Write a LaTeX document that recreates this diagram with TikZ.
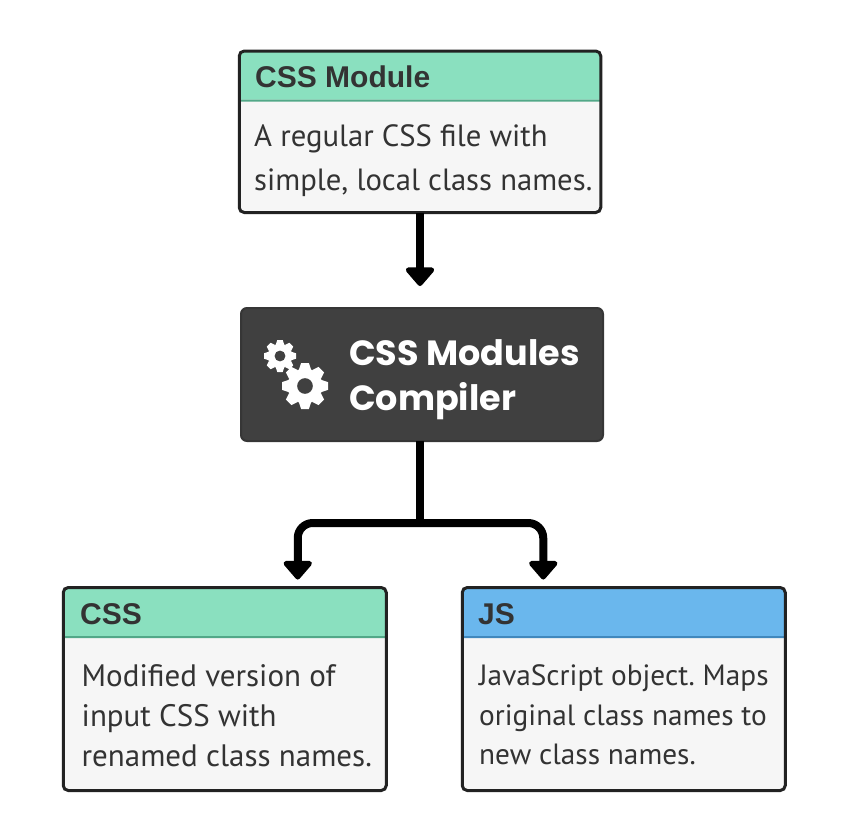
\documentclass[tikz,border=0pt]{standalone}
\usepackage{fontspec}
\usepackage{xcolor}
\usetikzlibrary{positioning}
\usetikzlibrary{arrows.meta}
\setmainfont{PT Sans}
\newfontfamily\headfont{Liberation Sans}[BoldFont={Liberation Sans Bold}]
\newfontfamily\compfont{Poppins}[BoldFont={Poppins Bold}]
\definecolor{mygreen}{HTML}{8AE0BF}
\definecolor{mygreenline}{HTML}{52A888}
\definecolor{myblue}{HTML}{6AB7ED}
\definecolor{mybluline}{HTML}{4088BD}
\definecolor{mybody}{HTML}{F6F6F6}
\definecolor{myink}{HTML}{333333}
\definecolor{myedge}{HTML}{222222}
\definecolor{mydark}{HTML}{404040}
\tikzset{
  box/.style n args={4}{draw=myedge,line width=3pt,rounded corners=5pt,fill=mybody,outer sep=0pt,
    minimum width=#1,minimum height=#2,
    path picture={
      \fill[#3] ([xshift=-6pt,yshift=6pt]path picture bounding box.north west) rectangle ([xshift=6pt,yshift=-48.5pt]path picture bounding box.north east);
      \fill[#4] ([xshift=-6pt,yshift=-48.5pt]path picture bounding box.north west) rectangle ([xshift=6pt,yshift=-50.5pt]path picture bounding box.north east);
    }},
  title/.style={anchor=base west,inner sep=0pt,text=myink,font=\headfont\bfseries\fontsize{30}{30}\selectfont},
  body/.style 2 args={anchor=west,inner sep=0pt,align=left,text=myink,font=\frenchspacing\fontsize{#1}{#2}\selectfont},
  link/.style={draw=black,line width=8pt,rounded corners=15pt,-{Triangle[round,length=20pt,width=33pt]}},
  pics/gear/.style={code={
    \foreach \a in {0,45,...,315}
      \fill[white,rotate=\a] (-.27,-.7) -- (-.17,-1) -- (.17,-1) -- (.27,-.7) -- cycle;
    \fill[white] (0,0) circle (.76);
    \fill[mydark] (0,0) circle (.34);
  }}
}
\begin{document}
\begin{tikzpicture}[x=1pt,y=-1pt,node distance=3cm,on grid]
    \useasboundingbox (0,0) rectangle (847,833);
    % boxes
    \node[box={361.5pt}{161.5pt}{mygreen}{mygreenline}] (module) at (420,131.75) {};
    \node[draw=mydark!85!black,line width=2pt,rounded corners=6pt,fill=mydark,outer sep=0pt,minimum width=362pt,minimum height=133pt] (compiler) at (422,374.5) {};
    \node[box={323pt}{203pt}{mygreen}{mygreenline}] (cssbox) [below left=314.5pt and 197.25pt of compiler] {};
    \node[box={323pt}{203pt}{myblue}{mybluline}] (jsbox) [right=399pt of cssbox] {};

    % texts
    \node[title] (moduletitle) at (255,87) {CSS Module};
    \node[body={30.7}{43.5pt}] (moduletext) at (254,160.5) {A regular CSS file with\\simple, local class names.};
    \node[anchor=west,inner sep=0pt,align=left,text=white,font=\compfont\bfseries\fontsize{35}{45}\selectfont] (compilertext) at (349,380) {CSS Modules\\Compiler};
    \node[title] (csstitle) at (80,624) {CSS};
    \node[body={31}{40pt}] (csstext) at (81.5,716) {Modified version of\\input CSS with\\renamed class names.};
    \node[title] (jstitle) at (478,624) {JS};
    \node[body={29.3}{39.5pt}] (jstext) at (479,715) {JavaScript object. Maps\\original class names to\\new class names.};

    % gears
    \pic at (280,356) [scale=16] {gear};
    \pic at (305,386) [scale=23] {gear};

    % connectors
    \coordinate (split) at (420,523);
    \draw[link,shorten >=22pt] (module.south) -- (module.south |- compiler.north);
    \draw[line width=8pt,draw=black] (split |- compiler.south) -- (split);
    \draw[link,shorten >=8pt] (split) -| ([xshift=73pt]cssbox.north);
    \draw[link,shorten >=8pt] (split) -| ([xshift=-80.5pt]jsbox.north);
\end{tikzpicture}
\end{document}
